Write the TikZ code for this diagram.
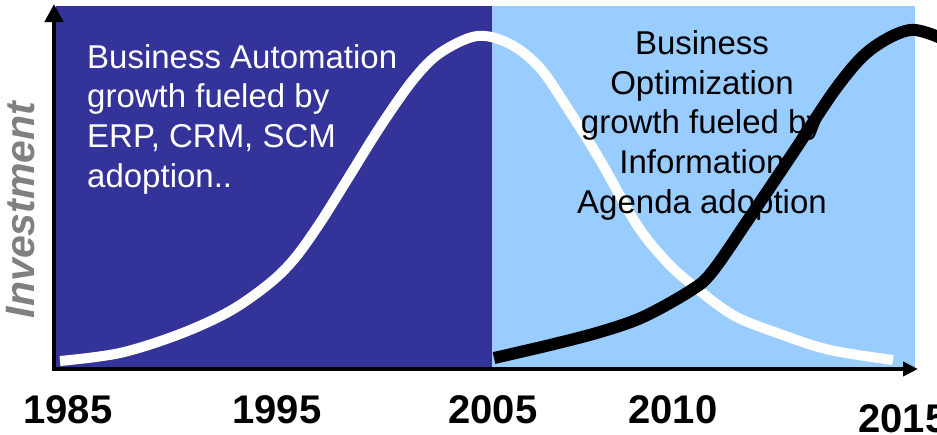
\documentclass[tikz,border=0pt]{standalone}
\usepackage{fontspec}
\setmainfont{Liberation Sans}
\usetikzlibrary{arrows.meta}
\definecolor{darkband}{RGB}{51,51,153}
\definecolor{lightband}{RGB}{153,204,255}
\definecolor{axisgray}{RGB}{128,128,128}
\begin{document}
\begin{tikzpicture}[x=1pt,y=-1pt,
  bodytext/.style={inner sep=0pt, font=\fontsize{33}{39.6}\selectfont},
  yearlabel/.style={inner sep=0pt, anchor=base, font=\fontsize{40}{48}\selectfont\bfseries},
  axisline/.style={line width=4.5pt, line join=miter},
  trend/.style={line width=#1, line join=round, line cap=butt}]
\useasboundingbox (0,0) rectangle (937,434);
\clip (0,0) rectangle (937,434);
% bands
\fill[darkband] (56,6) rectangle (492,367);
\fill[lightband] (492,6) rectangle (915,367);
% curves
\draw[trend=10pt, white] plot[smooth, tension=0.55] coordinates {
  (60,361) (120,353) (180,334) (230,311) (270,283) (295,258) (320,223)
  (347,180) (380,127) (413,80) (440,53) (477,36) (510,44) (540,68)
  (570,112) (600,160) (637,225) (665,260) (690,283) (733,315) (780,334)
  (830,350) (893,360)};
\draw[trend=12pt, black] plot[smooth, tension=0.55] coordinates {
  (494,358) (550,345) (600,332) (643,317) (690,291) (712,272) (750,217)
  (795,150) (837,87) (870,50) (910,30) (945,40)};
% axes
\coordinate (origin) at (54,369);
\coordinate (ytip) at (54,4);
\coordinate (xtip) at (918,369);
\draw[axisline, {Triangle[length=18pt,width=18pt]}-{Triangle[length=15pt,width=14pt]}]
  (ytip) -- (origin) -- (xtip);
% texts (base anchor of a multi-line node = last line's baseline)
\node[bodytext, white, align=left, anchor=base west] (autotext) at (87,187)
  {Business Automation\\growth fueled by\\ERP, CRM, SCM\\adoption..};
\node[bodytext, black, align=center, anchor=base] (optitext) at (702,213)
  {Business\\Optimization\\growth fueled by\\Information\\Agenda adoption};
\node[inner sep=0pt, rotate=90, anchor=base, text=axisgray,
  font=\fontsize{41}{48}\selectfont\bfseries\itshape] (ylabel) at (34,210) {Investment};
\node[yearlabel] (y1985) at (68,423) {1985};
\node[yearlabel] (y1995) at (277,423) {1995};
\node[yearlabel] (y2005) at (493,423) {2005};
\node[yearlabel] (y2010) at (673,423) {2010};
\node[yearlabel] (y2015) at (903,432) {2015};
\end{tikzpicture}
\end{document}
